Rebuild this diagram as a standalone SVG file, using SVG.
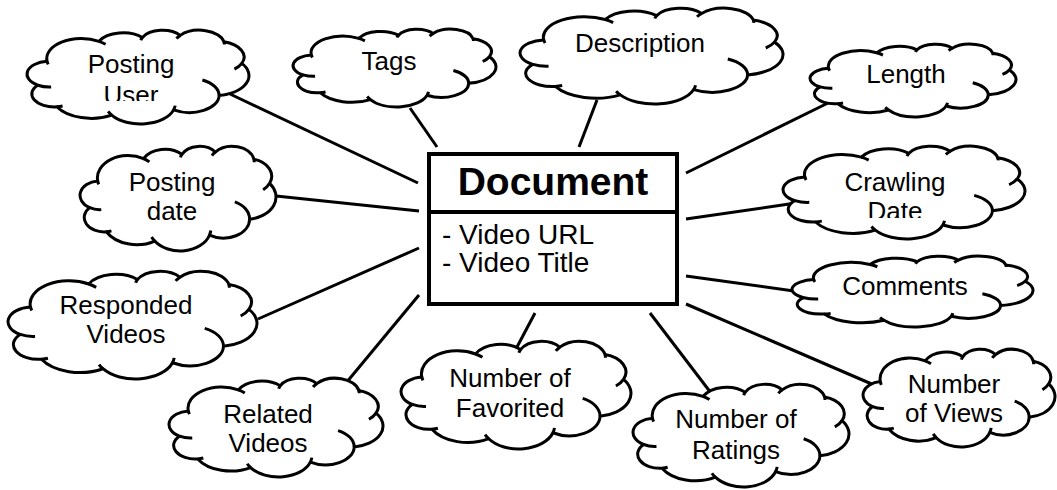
<svg xmlns="http://www.w3.org/2000/svg" xmlns:xlink="http://www.w3.org/1999/xlink" width="1057" height="490" viewBox="0 0 1057 490">
<style>
.c{fill:#fff;stroke:#000;stroke-width:3;stroke-linejoin:round}
.h{fill:none;stroke:#000;stroke-width:3}
.t{font-family:"Liberation Sans",Arial,sans-serif;font-size:26px;fill:#000;text-anchor:middle}
.b{font-family:"Liberation Sans",Arial,sans-serif;font-size:28px;fill:#000}
.conn line{stroke:#000;stroke-width:3}
</style>
<defs>
<path id="cloud" vector-effect="non-scaling-stroke" d="M3900 14370 A6753 9190 0 0 1 14000 5192 A5333 7267 0 0 1 22450 3422 A4365 5945 0 0 1 29828 2472 A4857 6595 0 0 1 38324 5426 A5333 7273 0 0 1 41798 15354 A6775 9220 0 0 1 37383 30096 A5785 7867 0 0 1 28534 36706 A6752 9215 0 0 1 16478 39090 A7720 10543 0 0 1 5802 35296 A4360 5918 0 0 1 2110 25375 A4345 5945 0 0 1 3900 14370 Z"/>
<path id="hooks" vector-effect="non-scaling-stroke" d="M4693 26177 A4345 5945 0 0 1 2135 25378 M6928 34899 A4360 5918 0 0 1 5802 35296 M16478 39090 A6752 9215 0 0 1 15791 37417 M28827 34751 A6752 9215 0 0 1 28534 36706 M34129 22954 A5785 7867 0 0 1 37383 30096 M41798 15354 A5333 7273 0 0 1 40364 18000 M38324 5426 A4857 6595 0 0 1 38400 6690 M29078 3952 A4857 6595 0 0 1 29828 2472 M22141 4720 A4365 5945 0 0 1 22450 3422 M14000 5192 A6753 9190 0 0 1 15299 6539 M4127 15789 A6753 9190 0 0 1 3900 14370"/>
<clipPath id="clipUser"><rect x="20" y="25" width="240" height="76"/></clipPath>
<clipPath id="clipDate"><rect x="775" y="140" width="260" height="78"/></clipPath>
</defs>

<g id="connectors" class="conn">
<line x1="230" y1="94" x2="418" y2="183"/>
<line x1="410" y1="108" x2="437" y2="147"/>
<line x1="597" y1="100" x2="579" y2="147"/>
<line x1="686" y1="173" x2="828" y2="103"/>
<line x1="276" y1="196" x2="419" y2="211"/>
<line x1="686" y1="219" x2="796" y2="203"/>
<line x1="258" y1="319" x2="419" y2="248"/>
<line x1="419" y1="295" x2="346" y2="383"/>
<line x1="535" y1="313" x2="517" y2="347"/>
<line x1="650" y1="313" x2="711" y2="393"/>
<line x1="686" y1="276" x2="794" y2="291"/>
<line x1="686" y1="304" x2="874" y2="385"/>
</g>

<g id="posting-user">
<svg x="27" y="30" width="222" height="94" viewBox="0 0 43200 43200" preserveAspectRatio="none" overflow="visible"><use href="#cloud" class="c"/><use href="#hooks" class="h"/></svg>
<g clip-path="url(#clipUser)"><text class="t" x="131" y="73">Posting</text><text class="t" x="131" y="104">User</text></g>
</g>

<g id="tags">
<svg x="293" y="29" width="203" height="78" viewBox="0 0 43200 43200" preserveAspectRatio="none" overflow="visible"><use href="#cloud" class="c"/><use href="#hooks" class="h"/></svg>
<text class="t" x="389" y="70">Tags</text>
</g>

<g id="description">
<svg x="520" y="8" width="263" height="96" viewBox="0 0 43200 43200" preserveAspectRatio="none" overflow="visible"><use href="#cloud" class="c"/><use href="#hooks" class="h"/></svg>
<text class="t" x="640" y="52">Description</text>
</g>

<g id="length">
<svg x="810" y="44" width="206" height="73" viewBox="0 0 43200 43200" preserveAspectRatio="none" overflow="visible"><use href="#cloud" class="c"/><use href="#hooks" class="h"/></svg>
<text class="t" x="906" y="83">Length</text>
</g>

<g id="posting-date">
<svg x="80" y="146" width="196" height="105" viewBox="0 0 43200 43200" preserveAspectRatio="none" overflow="visible"><use href="#cloud" class="c"/><use href="#hooks" class="h"/></svg>
<text class="t" x="172" y="191">Posting</text><text class="t" x="172" y="220">date</text>
</g>

<g id="crawling-date">
<svg x="783" y="146" width="242" height="93" viewBox="0 0 43200 43200" preserveAspectRatio="none" overflow="visible"><use href="#cloud" class="c"/><use href="#hooks" class="h"/></svg>
<g clip-path="url(#clipDate)"><text class="t" x="895" y="191">Crawling</text><text class="t" x="895" y="220">Date</text></g>
</g>

<g id="responded-videos">
<svg x="8" y="271" width="249" height="108" viewBox="0 0 43200 43200" preserveAspectRatio="none" overflow="visible"><use href="#cloud" class="c"/><use href="#hooks" class="h"/></svg>
<text class="t" x="126" y="314">Responded</text><text class="t" x="126" y="343">Videos</text>
</g>

<g id="related-videos">
<svg x="169" y="378" width="214" height="99" viewBox="0 0 43200 43200" preserveAspectRatio="none" overflow="visible"><use href="#cloud" class="c"/><use href="#hooks" class="h"/></svg>
<text class="t" x="268" y="423">Related</text><text class="t" x="268" y="452">Videos</text>
</g>

<g id="number-of-favorited">
<svg x="401" y="341" width="230" height="108" viewBox="0 0 43200 43200" preserveAspectRatio="none" overflow="visible"><use href="#cloud" class="c"/><use href="#hooks" class="h"/></svg>
<text class="t" x="510" y="387">Number of</text><text class="t" x="510" y="417">Favorited</text>
</g>

<g id="number-of-ratings">
<svg x="633" y="384" width="216" height="103" viewBox="0 0 43200 43200" preserveAspectRatio="none" overflow="visible"><use href="#cloud" class="c"/><use href="#hooks" class="h"/></svg>
<text class="t" x="736" y="428">Number of</text><text class="t" x="736" y="459">Ratings</text>
</g>

<g id="comments">
<svg x="792" y="256" width="241" height="71" viewBox="0 0 43200 43200" preserveAspectRatio="none" overflow="visible"><use href="#cloud" class="c"/><use href="#hooks" class="h"/></svg>
<text class="t" x="905" y="295">Comments</text>
</g>

<g id="number-of-views">
<svg x="863" y="349" width="192" height="98" viewBox="0 0 43200 43200" preserveAspectRatio="none" overflow="visible"><use href="#cloud" class="c"/><use href="#hooks" class="h"/></svg>
<text class="t" x="954" y="393">Number</text><text class="t" x="954" y="422">of Views</text>
</g>

<g id="document">
<rect x="429" y="154" width="248" height="150" fill="#fff" stroke="#000" stroke-width="4"/>
<line x1="429" y1="212" x2="677" y2="212" stroke="#000" stroke-width="4"/>
<text x="553" y="195" font-family="'Liberation Sans',Arial,sans-serif" font-size="39" font-weight="bold" text-anchor="middle">Document</text>
<text class="b" x="442" y="244">- Video URL</text>
<text class="b" x="442" y="272">- Video Title</text>
</g>
</svg>
